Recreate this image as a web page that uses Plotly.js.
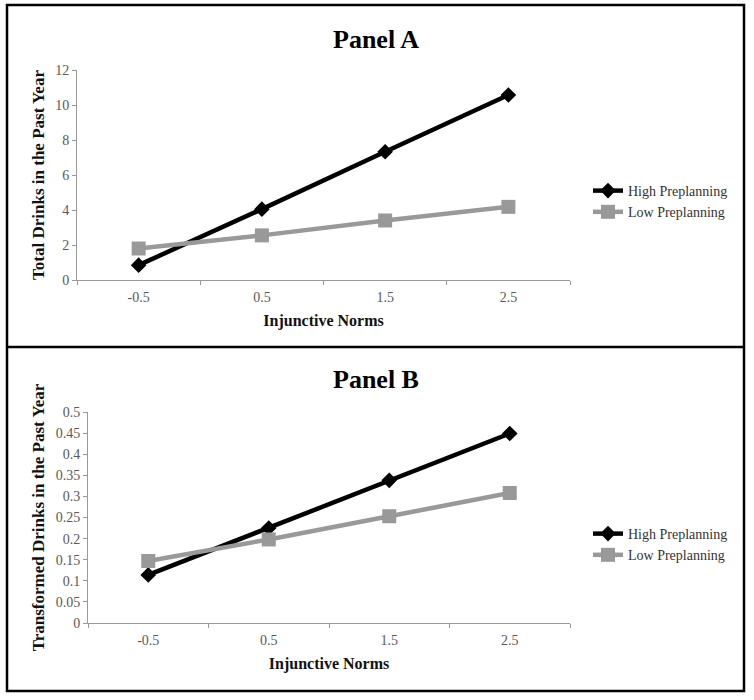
<!DOCTYPE html>
<html>
<head>
<meta charset="utf-8">
<script src="https://cdn.plot.ly/plotly-3.0.1.min.js"></script>
<style>
  html, body { margin: 0; padding: 0; background: #fff; }
  #chart { width: 754px; height: 700px; }
</style>
</head>
<body>
<div id="chart"></div>
<script>
// ---- Data ----
const categories = ["-0.5", "0.5", "1.5", "2.5"];
const panelA_high = [0.85, 4.05, 7.33, 10.57];
const panelA_low  = [1.8, 2.55, 3.4, 4.18];
const panelB_high = [0.114, 0.225, 0.338, 0.449];
const panelB_low  = [0.147, 0.198, 0.253, 0.308];
const seriesNames = ["High Preplanning", "Low Preplanning"];
const panelTitles = ["Panel A", "Panel B"];
const yTitles = ["Total Drinks in the Past Year", "Transformed Drinks in the Past Year"];
const xTitle = "Injunctive Norms";

const W = 754, H = 700;
const px = v => v / W;
const py = v => 1 - v / H;

const serif = "Liberation Serif, Times New Roman, serif";
const black = "#000000";
const gray = "#999999";

function mk(y, i, xa, ya, leg) {
  const high = i === 0;
  return {
    x: categories, y: y, type: "scatter", mode: "lines+markers",
    name: seriesNames[i], xaxis: xa, yaxis: ya, legend: leg,
    line: { color: high ? black : gray, width: 4.5 },
    marker: { symbol: high ? "diamond" : "square", size: high ? 12 : 14,
              color: high ? black : gray },
    showlegend: true
  };
}

const traces = [
  mk(panelA_high, 0, "x", "y", "legend"),
  mk(panelA_low, 1, "x", "y", "legend"),
  mk(panelB_high, 0, "x2", "y2", "legend2"),
  mk(panelB_low, 1, "x2", "y2", "legend2")
];

const tickFont = { family: serif, size: 14, color: "#595959" };
const axTitleFont = { family: serif, size: 17, color: "#111", weight: "bold" };

function xaxis(domain, anchor) {
  return {
    domain: domain, anchor: anchor, type: "category", range: [-0.5, 3.5],
    tickson: "boundaries", ticks: "outside", ticklen: 4, tickcolor: "#999",
    ticklabelstandoff: 4,
    showline: true, linecolor: "#999", linewidth: 1,
    showgrid: false, zeroline: false, tickfont: tickFont,
    title: { text: xTitle, font: { family: serif, size: 16, color: "#111", weight: "bold" }, standoff: 11 },
    fixedrange: true
  };
}
function yaxis(domain, anchor, range, dtick, title, standoff) {
  return {
    domain: domain, anchor: anchor, range: range, dtick: dtick,
    ticks: "outside", ticklen: 4, tickcolor: "#999",
    showline: true, linecolor: "#999", linewidth: 1,
    showgrid: false, zeroline: false, tickfont: tickFont,
    title: { text: title, font: axTitleFont, standoff: standoff },
    fixedrange: true
  };
}

const legendBase = {
  x: px(588), xanchor: "left", yanchor: "top",
  font: { family: serif, size: 14, color: "#333" },
  bgcolor: "rgba(0,0,0,0)", itemwidth: 30, tracegroupgap: 0
};

const layout = {
  width: W, height: H,
  margin: { l: 0, r: 0, t: 0, b: 0 },
  paper_bgcolor: "#fff", plot_bgcolor: "#fff",
  xaxis: xaxis([px(77), px(570)], "y"),
  yaxis: yaxis([py(280), py(70)], "x", [0, 12], 2, yTitles[0], 6),
  xaxis2: xaxis([px(88), px(570)], "y2"),
  yaxis2: yaxis([py(623), py(412)], "x2", [0, 0.5], 0.05, yTitles[1], 6),
  legend: Object.assign({}, legendBase, { y: py(175) }),
  legend2: Object.assign({}, legendBase, { y: py(518) }),
  annotations: [
    { text: panelTitles[0], xref: "paper", yref: "paper", x: px(376), y: py(39),
      xanchor: "center", yanchor: "middle",
      showarrow: false, font: { family: serif, size: 26, color: "#000", weight: "bold" } },
    { text: panelTitles[1], xref: "paper", yref: "paper", x: px(376), y: py(379),
      xanchor: "center", yanchor: "middle",
      showarrow: false, font: { family: serif, size: 26, color: "#000", weight: "bold" } }
  ],
  shapes: [
    { type: "rect", xref: "paper", yref: "paper", x0: px(7), x1: px(744), y0: py(691), y1: py(5),
      line: { color: "#000", width: 2.5 } },
    { type: "line", xref: "paper", yref: "paper", x0: px(7), x1: px(744), y0: py(347), y1: py(347),
      line: { color: "#000", width: 2.5 } }
  ]
};

Plotly.newPlot("chart", traces, layout, { displayModeBar: false, staticPlot: true });
</script>
</body>
</html>
